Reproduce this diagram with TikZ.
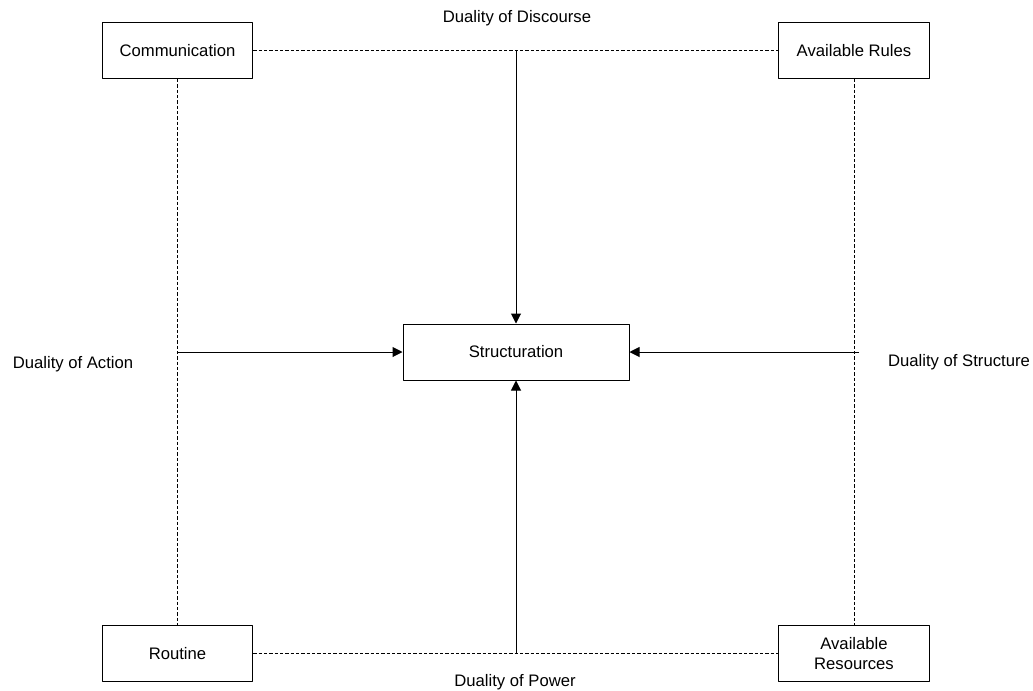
\documentclass[tikz,border=0pt]{standalone}
\usepackage{fontspec}
\setmainfont{Liberation Sans}
\usetikzlibrary{arrows.meta,calc}

\begin{document}
\begin{tikzpicture}[x=0.75pt,y=-0.75pt,>={Triangle[length=7.5pt,width=7.5pt]}, font=\fontsize{12.5}{15}\selectfont, line width=0.75pt, line join=round]
	\def \w{113pt} %box width
	\def \h{42pt} %box height
	\tikzset{box/.style={draw,fill=white,minimum width=\w,minimum height=\h,align=center,inner sep=2pt},
		link/.style={dash pattern=on 2.4pt off 1.6pt}}
	\useasboundingbox (0,0) rectangle (1033,690);
	\node[box] (comm) at (177.5,50.5) {Communication};
	\node[box] (rules) at (854,50.5) {Available Rules};
	\node[box] (routine) at (177.5,653.5) {Routine};
	\node[box] (res) at (854,653.5) {Available\\Resources};
	\node[box,minimum width=169.5pt] (struct) at (516,352) {Structuration};
	\draw[link] (comm)--(rules) (comm)--(routine) (rules)--(res) (routine)--(res);
	\coordinate (t) at (struct |- comm);
	\coordinate (b) at (struct |- routine);
	\coordinate (l) at (comm |- struct);
	\coordinate (r) at ($(rules |- struct)+(5,0)$);
	\draw[->] (t)--(struct);
	\draw[->] (b)--(struct);
	\draw[->] (l)--(struct);
	\draw[->] (r)--(struct);
	\node (disc) at (517,18) {Duality of Discourse};
	\node (act) at (73,364) {Duality of Action};
	\node (stru) at (959,362) {Duality of Structure};
	\node (pow) at (515,682) {Duality of Power};
\end{tikzpicture}
\end{document}
